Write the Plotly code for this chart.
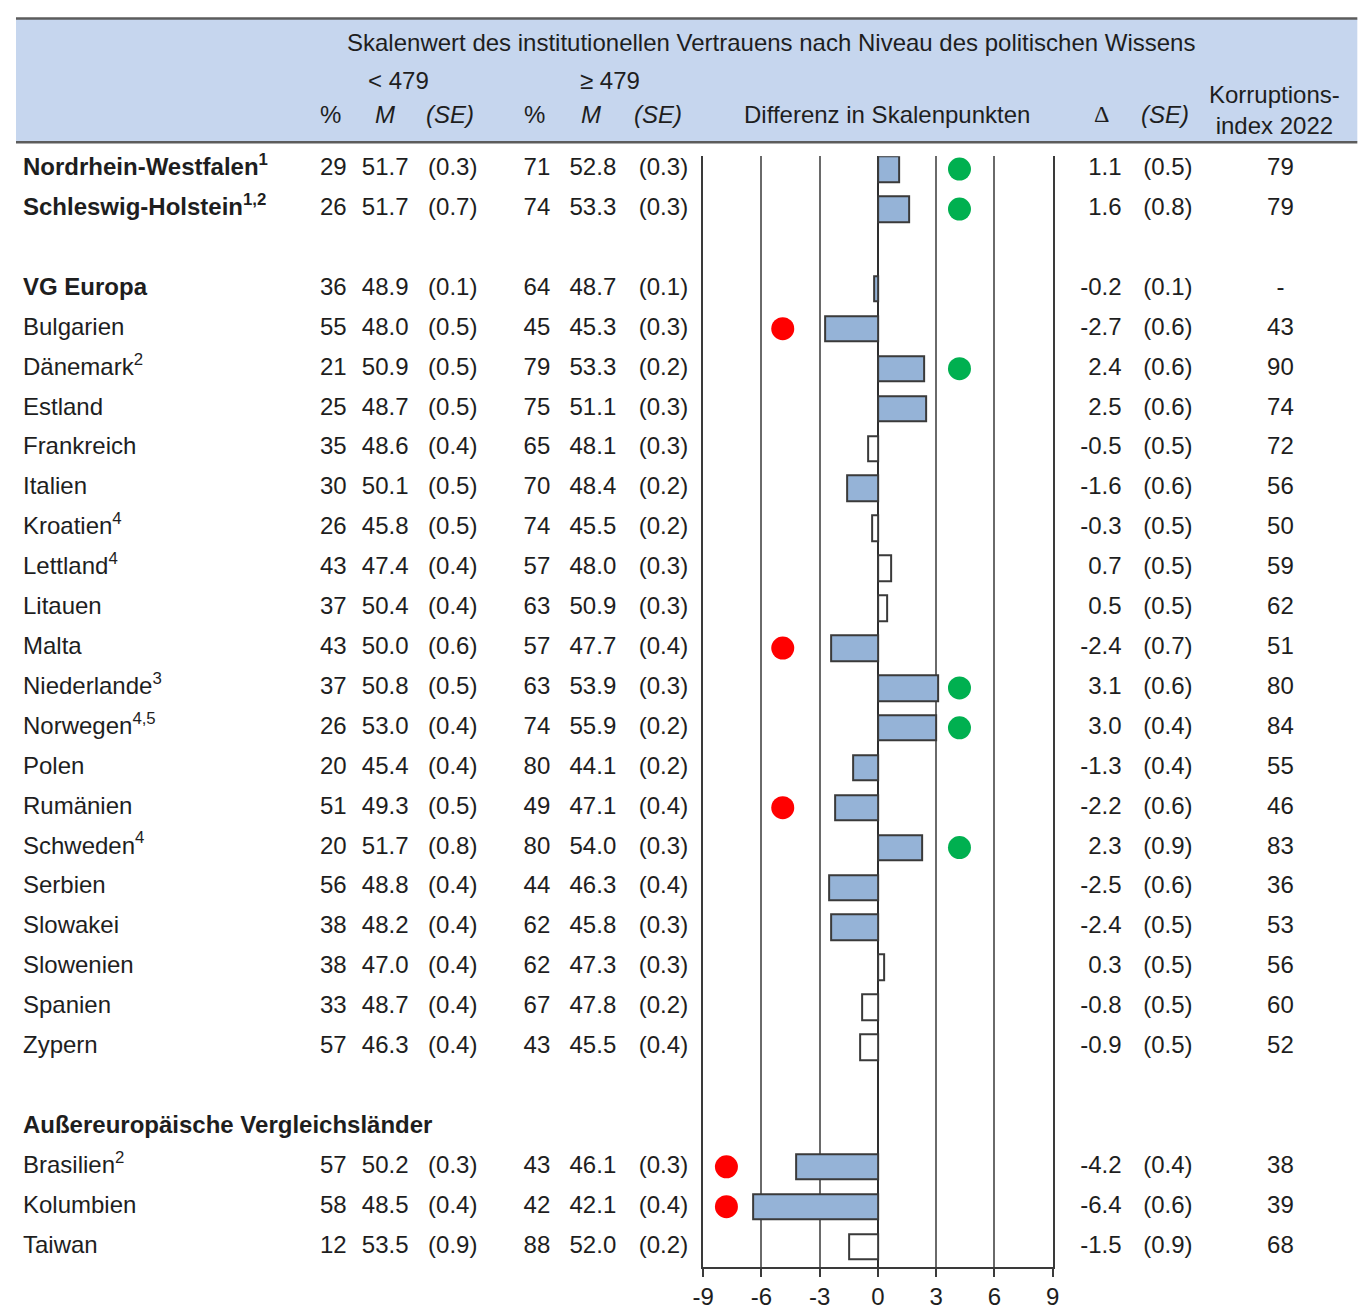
import plotly.graph_objects as go

# ---- data -----------------------------------------------------------------
labels = [
    "<b>Nordrhein-Westfalen<sup>1</sup></b>", "<b>Schleswig-Holstein<sup>1,2</sup></b>",
    None,
    "<b>VG Europa</b>", "Bulgarien", "Dänemark<sup>2</sup>", "Estland", "Frankreich",
    "Italien", "Kroatien<sup>4</sup>", "Lettland<sup>4</sup>", "Litauen", "Malta",
    "Niederlande<sup>3</sup>", "Norwegen<sup>4,5</sup>", "Polen", "Rumänien",
    "Schweden<sup>4</sup>", "Serbien", "Slowakei", "Slowenien", "Spanien", "Zypern",
    None,
    "<b>Außereuropäische Vergleichsländer</b>",
    "Brasilien<sup>2</sup>", "Kolumbien", "Taiwan",
]
# rows that carry numbers (None = spacer / section heading)
pct_low = [29, 26, None, 36, 55, 21, 25, 35, 30, 26, 43, 37, 43, 37, 26, 20, 51, 20, 56, 38, 38, 33, 57, None, None, 57, 58, 12]
m_low = [51.7, 51.7, None, 48.9, 48.0, 50.9, 48.7, 48.6, 50.1, 45.8, 47.4, 50.4, 50.0, 50.8, 53.0, 45.4, 49.3, 51.7, 48.8, 48.2, 47.0, 48.7, 46.3, None, None, 50.2, 48.5, 53.5]
se_low = [0.3, 0.7, None, 0.1, 0.5, 0.5, 0.5, 0.4, 0.5, 0.5, 0.4, 0.4, 0.6, 0.5, 0.4, 0.4, 0.5, 0.8, 0.4, 0.4, 0.4, 0.4, 0.4, None, None, 0.3, 0.4, 0.9]
pct_high = [71, 74, None, 64, 45, 79, 75, 65, 70, 74, 57, 63, 57, 63, 74, 80, 49, 80, 44, 62, 62, 67, 43, None, None, 43, 42, 88]
m_high = [52.8, 53.3, None, 48.7, 45.3, 53.3, 51.1, 48.1, 48.4, 45.5, 48.0, 50.9, 47.7, 53.9, 55.9, 44.1, 47.1, 54.0, 46.3, 45.8, 47.3, 47.8, 45.5, None, None, 46.1, 42.1, 52.0]
se_high = [0.3, 0.3, None, 0.1, 0.3, 0.2, 0.3, 0.3, 0.2, 0.2, 0.3, 0.3, 0.4, 0.3, 0.2, 0.2, 0.4, 0.3, 0.4, 0.3, 0.3, 0.2, 0.4, None, None, 0.3, 0.4, 0.2]
delta = [1.1, 1.6, None, -0.2, -2.7, 2.4, 2.5, -0.5, -1.6, -0.3, 0.7, 0.5, -2.4, 3.1, 3.0, -1.3, -2.2, 2.3, -2.5, -2.4, 0.3, -0.8, -0.9, None, None, -4.2, -6.4, -1.5]
se_delta = [0.5, 0.8, None, 0.1, 0.6, 0.6, 0.6, 0.5, 0.6, 0.5, 0.5, 0.5, 0.7, 0.6, 0.4, 0.4, 0.6, 0.9, 0.6, 0.5, 0.5, 0.5, 0.5, None, None, 0.4, 0.6, 0.9]
cpi_2022 = ["79", "79", None, "-", "43", "90", "74", "72", "56", "50", "59", "62", "51", "80", "84", "55", "46", "83", "36", "53", "56", "60", "52", None, None, "38", "39", "68"]
# highlighted rows: "g" = green marker, "r" = red marker
highlight = ["g", "g", None, None, "r", "g", None, None, None, None, None, None, "r", "g", "g", None, "r", "g", None, None, None, None, None, None, None, "r", "r", None]
is_european = [True] * 24 + [False] * 4
tick_vals = [-9, -6, -3, 0, 3, 6, 9]

rows = list(range(len(labels)))

# ---- styling constants ------------------------------------------------------
W, H = 1360, 1310
FONT = "Liberation Sans, Arial, sans-serif"
TXT = "#1e1e1e"
FS = 24
BAR_FILL = "#95B3D7"
BAR_LINE = "#3a3a3a"


def sx(x):
    # horizontal page position -> figure position (page is rendered slightly narrower)
    return (x - 10) / 0.988


def px(x):
    return sx(x) / W


def py(y):
    return 1 - (y + 1.5) / H


fig = go.Figure()

# ---- bars: significant differences filled, others hollow ------------------------
sig = [d is not None and abs(d) / s >= 1.96 for d, s in zip(delta, se_delta)]
bar_rows = [r for r, d in zip(rows, delta) if d is not None]
bar_vals = [d for d in delta if d is not None]
bar_cols = [BAR_FILL if s else "white" for s, d in zip(sig, delta) if d is not None]
fig.add_trace(go.Bar(
    x=bar_vals, y=bar_rows, orientation="h", base=0, width=0.64,
    marker=dict(color=bar_cols, line=dict(color=BAR_LINE, width=2)),
    xaxis="x", yaxis="y", hoverinfo="skip",
))

# ---- coloured markers -------------------------------------------------------------
GREEN_X, RED_X_EU, RED_X_NONEU = 4.2, -4.9, -7.8
for key, col in (("g", "#00B050"), ("r", "#FF0000")):
    xs, ys = [], []
    for r, h, eu in zip(rows, highlight, is_european):
        if h == key:
            xs.append(GREEN_X if key == "g" else (RED_X_EU if eu else RED_X_NONEU))
            ys.append(r)
    fig.add_trace(go.Scatter(
        x=xs, y=ys, mode="markers", xaxis="x", yaxis="y",
        marker=dict(size=23, color=col, line=dict(width=0)), hoverinfo="skip",
    ))

# ---- table text columns -------------------------------------------------------------
def text_col(xpos, values, pattern="{}", position="middle left"):
    ys = [r for r, v in zip(rows, values) if v is not None]
    texts = [pattern.format(v) for v in values if v is not None]
    fig.add_trace(go.Scatter(
        x=[sx(xpos)] * len(ys), y=ys, text=texts, mode="text",
        textposition=position, xaxis="x2", yaxis="y", cliponaxis=False,
        textfont=dict(family=FONT, size=FS, color=TXT), hoverinfo="skip",
    ))


text_col(22, labels, position="middle right")
text_col(346, pct_low, "{:d}")
text_col(408, m_low, "{:.1f}")
text_col(477, se_low, "({:.1f})")
text_col(550, pct_high, "{:d}")
text_col(616, m_high, "{:.1f}")
text_col(688, se_high, "({:.1f})")
text_col(1122, delta, "{:.1f}")
text_col(1193, se_delta, "({:.1f})")
text_col(1281, cpi_2022, position="middle center")

# ---- header band -----------------------------------------------------------------
shapes = [
    dict(type="rect", xref="paper", yref="paper", x0=px(15), x1=px(1358), y0=py(141), y1=py(17),
         fillcolor="#C6D6EE", line=dict(width=0), layer="below"),
    dict(type="line", xref="paper", yref="paper", x0=px(15), x1=px(1358), y0=py(17), y1=py(17),
         line=dict(color="#5c5c5c", width=2.5)),
    dict(type="line", xref="paper", yref="paper", x0=px(15), x1=px(1358), y0=py(141), y1=py(141),
         line=dict(color="#5c5c5c", width=2.5)),
]

header = [
    (771, 41, "Skalenwert des institutionellen Vertrauens nach Niveau des politischen Wissens", FONT),
    (398, 79, "&lt; 479", FONT), (610, 79, "≥ 479", FONT),
    (330, 113, "%", FONT), (384, 113, "<i>M</i>", FONT), (450, 113, "<i>(SE)</i>", FONT),
    (534, 113, "%", FONT), (591, 113, "<i>M</i>", FONT), (658, 113, "<i>(SE)</i>", FONT),
    (887, 113, "Differenz in Skalenpunkten", FONT),
    (1102, 113, "Δ", "Liberation Serif, Times New Roman, serif"),
    (1165, 113, "<i>(SE)</i>", FONT),
    (1275, 109, "Korruptions-<br>index 2022", FONT),
]
annotations = [
    dict(x=px(x), y=py(y), xref="paper", yref="paper", text=t, showarrow=False,
         xanchor="center", yanchor="middle", font=dict(family=f, size=FS, color=TXT))
    for x, y, t, f in header
]

# ---- layout -------------------------------------------------------------------------
fig.update_layout(
    width=W, height=H, margin=dict(l=0, r=0, t=0, b=0),
    paper_bgcolor="white", plot_bgcolor="rgba(0,0,0,0)",
    showlegend=False, shapes=shapes, annotations=annotations,
    bargap=0,
    xaxis=dict(
        domain=[px(703), px(1053)], range=[-9, 9], anchor="y",
        tickvals=tick_vals, ticktext=[str(v) for v in tick_vals],
        showgrid=True, gridcolor="#6a6a6a", gridwidth=2,
        zeroline=True, zerolinecolor="#2e2e2e", zerolinewidth=2,
        showline=True, linecolor="#3a3a3a", linewidth=2,
        ticks="outside", ticklen=8, tickwidth=2, tickcolor="#3a3a3a",
        tickfont=dict(family=FONT, size=FS, color=TXT),
    ),
    xaxis2=dict(domain=[0, 1], range=[0, W], anchor="y", visible=False),
    yaxis=dict(
        domain=[py(1268), py(155)], range=[27.5, -0.325],
        showgrid=False, zeroline=False, showticklabels=False, ticks="",
        showline=True, mirror=True, linecolor="#3a3a3a", linewidth=2,
    ),
)

fig.write_html("out.html")
